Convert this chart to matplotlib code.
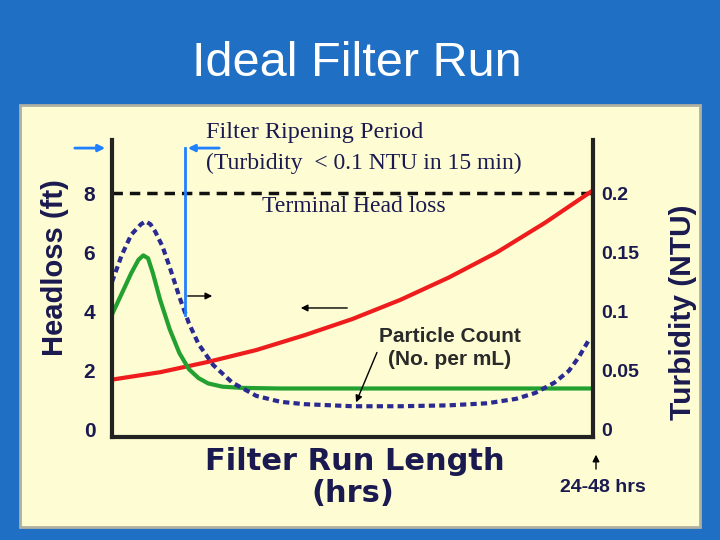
import matplotlib
matplotlib.use("Agg")
import matplotlib.pyplot as plt
from matplotlib.patches import Rectangle
import numpy as np

# data (x in run-length fraction 0..100, y in headloss ft)
red_x = [0, 10, 20, 30, 40, 50, 60, 70, 80, 90, 100]
red_y = [1.7, 1.95, 2.3, 2.7, 3.2, 3.75, 4.4, 5.15, 6.0, 7.0, 8.1]
green_x = [0, 2, 4, 5.5, 6.5, 7.5, 8.5, 10, 12, 14, 16, 18, 20, 23, 27, 35, 50, 100]
green_y = [3.9, 4.6, 5.3, 5.75, 5.9, 5.8, 5.3, 4.4, 3.4, 2.6, 2.05, 1.75, 1.57, 1.46, 1.42, 1.4, 1.4, 1.4]
blue_x = [0, 2, 4, 6, 7, 8, 9, 10.5, 12, 14, 16, 18, 21, 25, 30, 35, 40, 50, 60, 70, 78, 84, 88, 92, 95, 97, 99]
blue_y = [5.0, 5.9, 6.6, 6.95, 7.05, 6.95, 6.7, 6.2, 5.5, 4.5, 3.6, 2.9, 2.2, 1.6, 1.15, 0.95, 0.87, 0.8, 0.8, 0.83, 0.9, 1.05, 1.25, 1.6, 2.0, 2.45, 3.0]
left_ticks = [0, 2, 4, 6, 8]
right_labels = ["0", "0.05", "0.1", "0.15", "0.2"]

W, H = 720, 540
fig = plt.figure(figsize=(7.2, 5.4), dpi=100)
fig.patch.set_facecolor("#1f6fc5")
def fx(px): return px / W
def fy(py): return 1 - py / H
fig.add_artist(Rectangle((fx(20), fy(527)), fx(680), (527 - 105) / H, transform=fig.transFigure,
                         facecolor="#fdfcd2", edgecolor="#b0b0a0", lw=2, zorder=-5))
fig.text(fx(357), fy(64), "Ideal Filter Run", color="white", fontsize=35,
         family="Liberation Sans", ha="center", va="center")

ax = fig.add_axes([fx(112), fy(437), fx(593 - 112), (437 - 140) / H])
ax.set_facecolor("none")
ax.set_xlim(0, 100)
ax.set_ylim(-0.24, 9.8)
navy = "#1a1a50"
ax.spines["top"].set_visible(False)
for s in ["left", "right", "bottom"]:
    ax.spines[s].set_linewidth(3)
for s in ax.spines.values(): s.set_color("#222222")
ax.set_xticks([])
ax.set_yticks(left_ticks)
ax.set_yticklabels([str(t) for t in left_ticks], fontsize=15, fontweight="bold", color=navy, family="Liberation Sans")
ax.tick_params(axis="y", length=0, pad=12)
ax2 = ax.twinx()
ax2.set_ylim(ax.get_ylim())
ax2.set_yticks(left_ticks)
ax2.set_yticklabels(right_labels, fontsize=14, fontweight="bold", color=navy, family="Liberation Sans")
ax2.tick_params(axis="y", length=0, pad=6)
for s in ax2.spines.values(): s.set_visible(False)

ax.axhline(8, color="#111111", lw=2.5, ls=(0, (3, 2)))
ax.plot(red_x, red_y, color="#ee1c1c", lw=3)
ax.plot(green_x, green_y, color="#22a030", lw=3)
ax.plot(blue_x, blue_y, color="#2a2a90", lw=3, ls=(0, (1.5, 1)))

def px2d(px, py):
    return ((px - 112) / (593 - 112) * 100, (430 - py) / 29.6)
fig.add_artist(plt.Line2D([fx(185), fx(185)], [fy(148), fy(315)], transform=fig.transFigure, color="#2080ff", lw=2))
ax.annotate("", xy=px2d(108, 148), xytext=px2d(72, 148), annotation_clip=False,
            arrowprops=dict(arrowstyle="-|>", color="#2080ff", lw=2))
ax.annotate("", xy=px2d(185, 148), xytext=px2d(222, 148), annotation_clip=False,
            arrowprops=dict(arrowstyle="-|>", color="#2080ff", lw=2))
ax.annotate("", xy=px2d(215, 296), xytext=px2d(185, 296), arrowprops=dict(arrowstyle="-|>", color="black", lw=1))
ax.annotate("", xy=px2d(298, 308), xytext=px2d(350, 308), arrowprops=dict(arrowstyle="-|>", color="black", lw=1))
ax.annotate("", xy=px2d(355, 405), xytext=px2d(378, 350), arrowprops=dict(arrowstyle="-|>", color="black", lw=1))
ax.text(*px2d(450, 337), "Particle Count", fontsize=15, fontweight="bold", color="#2a2a2a", ha="center", va="center", family="Liberation Sans")
ax.text(*px2d(450, 360), "(No. per mL)", fontsize=15, fontweight="bold", color="#2a2a2a", ha="center", va="center", family="Liberation Sans")

fig.text(fx(206), fy(133), "Filter Ripening Period", fontsize=17.5, color=navy, family="Liberation Serif", va="center")
fig.text(fx(206), fy(163), "(Turbidity  < 0.1 NTU in 15 min)", fontsize=17, color=navy, family="Liberation Serif", va="center")
fig.text(fx(262), fy(206), "Terminal Head loss", fontsize=17, color=navy, family="Liberation Serif", va="center")
fig.text(fx(55), fy(268), "Headloss (ft)", fontsize=21, fontweight="bold", color=navy, rotation=90, ha="center", va="center", family="Liberation Sans")
fig.text(fx(683), fy(312), "Turbidity (NTU)", fontsize=21.5, fontweight="bold", color=navy, rotation=90, ha="center", va="center", family="Liberation Sans")
fig.text(fx(355), fy(461), "Filter Run Length", fontsize=22, fontweight="heavy", color=navy, ha="center", va="center", family="DejaVu Sans")
fig.text(fx(353), fy(493), "(hrs)", fontsize=22, fontweight="heavy", color=navy, ha="center", va="center", family="DejaVu Sans")
fig.text(fx(603), fy(488), "24-48 hrs", fontsize=14, fontweight="bold", color=navy, ha="center", va="center", family="Liberation Sans")
ax.annotate("", xy=px2d(596, 452), xytext=px2d(596, 472), annotation_clip=False,
            arrowprops=dict(arrowstyle="-|>", color="black", lw=1))
fig.savefig("out.png", dpi=100, facecolor=fig.get_facecolor())
